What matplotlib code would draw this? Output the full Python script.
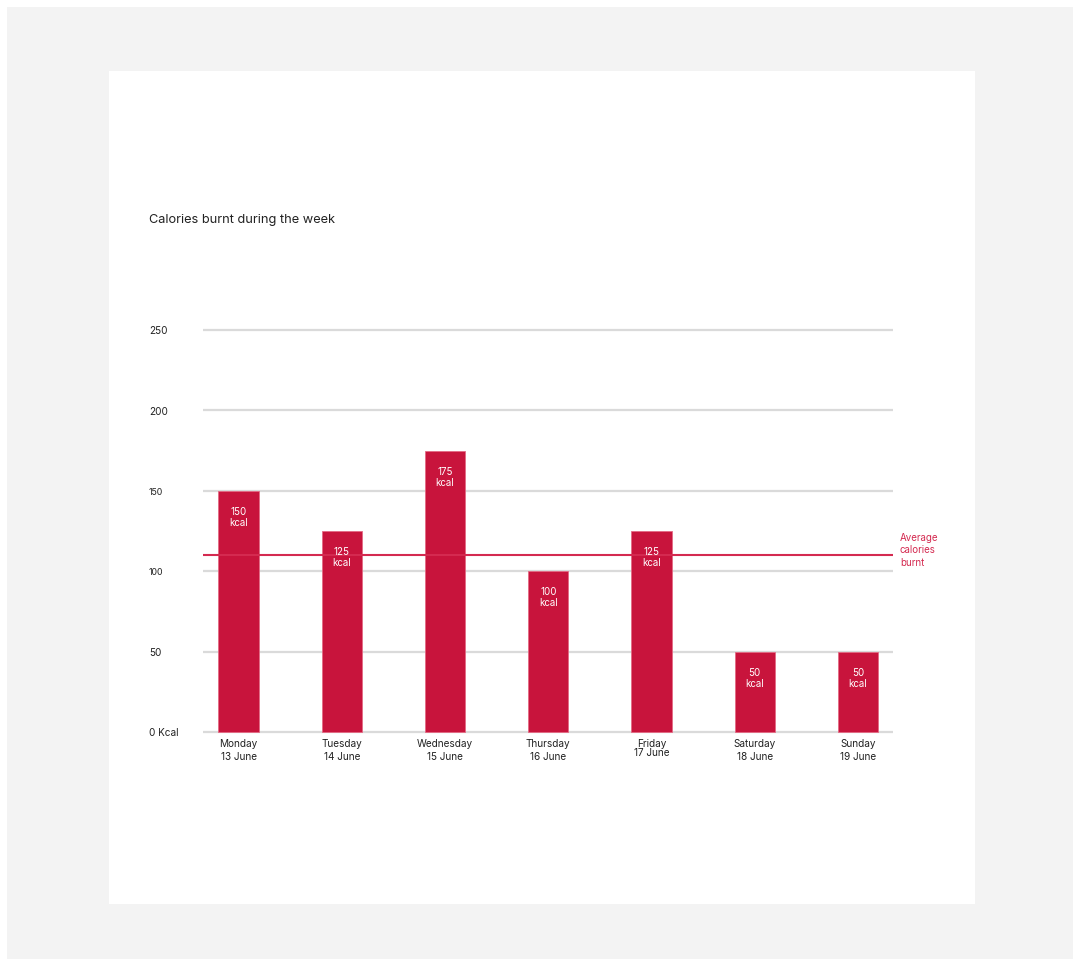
import matplotlib
matplotlib.use("Agg")
import matplotlib.pyplot as plt
from matplotlib.patches import Rectangle
import matplotlib.transforms as mtrans
import numpy as np

plt.rcParams['font.family'] = ['Inter', 'DejaVu Sans']

days = ["Monday", "Tuesday", "Wednesday", "Thursday", "Friday", "Saturday", "Sunday"]
dates = ["13 June", "14 June", "15 June", "16 June", "17 June", "18 June", "19 June"]
calories = [150, 125, 175, 100, 125, 50, 50]
average_calories = 110
yticks = [0, 50, 100, 150, 200, 250]
ytick_labels = ["0 Kcal", "50", "100", "150", "200", "250"]
title = "Calories burnt during the week"
avg_label = "Average\ncalories\nburnt"

W, H = 1073, 959
fig = plt.figure(figsize=(W / 100, H / 100), dpi=100, facecolor="white")

def fx(px):
    return px / W

def fy(py):
    return (H - py) / H

# backgrounds
fig.patches.append(Rectangle((fx(7), 0), 1 - fx(7), fy(7), transform=fig.transFigure,
                             facecolor="#f3f3f3", edgecolor="none", zorder=-10))
fig.patches.append(Rectangle((fx(109), fy(904)), fx(975) - fx(109), fy(71) - fy(904),
                             transform=fig.transFigure, facecolor="white", edgecolor="none", zorder=-9))

y0, y1 = -2, 255
px_per_unit = (732 - 330) / 250
top_px = 732 - y1 * px_per_unit
bot_px = 732 - y0 * px_per_unit
ax = fig.add_axes([fx(203), fy(bot_px), fx(893) - fx(203), fy(top_px) - fy(bot_px)])
ax.set_facecolor("none")
ax.set_xlim(-0.344, 6.339)
ax.set_ylim(y0, y1)
for s in ax.spines.values():
    s.set_visible(False)
ax.set_xticks([])
ax.set_yticks([])

for t in yticks:
    ax.axhline(t, color="#dadada", lw=1.6, zorder=1)

x = np.arange(len(days))
bar_color = "#c8143c"
ax.bar(x, calories, width=0.39, color=bar_color, edgecolor="#e46a84", linewidth=0.6, zorder=2)

ax.axhline(average_calories, color="#d42a50", lw=1.5, zorder=3)

for xi, v in zip(x, calories):
    ax.annotate(f"{v}\nkcal", (xi, v), xytext=(0, -11.5), textcoords="offset points",
                ha="center", va="top", fontsize=7, color="white", linespacing=1.15, zorder=4)

trans_fy = mtrans.blended_transform_factory(fig.transFigure, ax.transData)
ax.text(fx(900), average_calories + 3.0, avg_label, transform=trans_fy, ha="left", va="center",
        fontsize=7, color="#d42a50", linespacing=1.3)

# y tick labels
for t, lab in zip(yticks, ytick_labels):
    size = 6.3 if t in (100, 150) else 7.2
    ax.text(fx(149), t - 0.8, lab, transform=trans_fy, ha="left", va="center",
            fontsize=size, color="#222222")

# x labels
trans_xf = mtrans.blended_transform_factory(ax.transData, fig.transFigure)
for xi, d, dt in zip(x, days, dates):
    ax.text(xi, fy(744), d, transform=trans_xf, ha="center", va="center", fontsize=7.2, color="#222222")
    ypx = 753 if d == "Friday" else 756.5
    ax.text(xi, fy(ypx), dt, transform=trans_xf, ha="center", va="center", fontsize=7.2, color="#222222")

fig.text(fx(149), fy(220.5), title, ha="left", va="center", fontsize=9.2, color="#222222")

fig.savefig("out.png", dpi=100, facecolor="white")
